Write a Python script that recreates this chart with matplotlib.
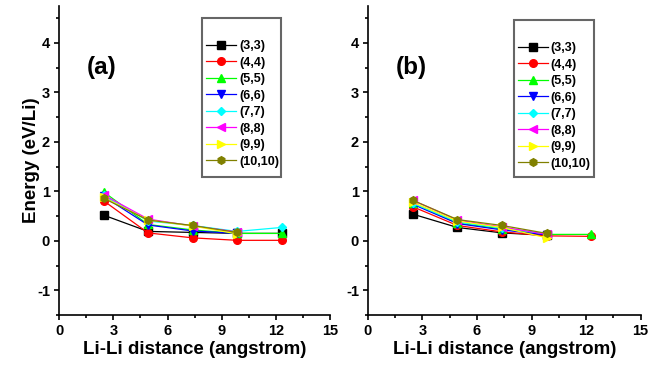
import numpy as np
import matplotlib
matplotlib.use("Agg")
from matplotlib import pyplot as plt
from matplotlib.ticker import MultipleLocator
from matplotlib.patches import Rectangle

plt.rcParams['font.family'] = ['Liberation Sans', 'DejaVu Sans']
plt.rcParams['font.weight'] = 'bold'
plt.rcParams['axes.unicode_minus'] = False

nan = np.nan
dist = [2.46, 4.92, 7.38, 9.84, 12.3]
labels = ["(3,3)", "(4,4)", "(5,5)", "(6,6)", "(7,7)", "(8,8)", "(9,9)", "(10,10)"]

# panel (a)
a_33 = [0.52, 0.19, 0.17, 0.15, 0.15]
a_44 = [0.81, 0.16, 0.06, 0.01, 0.01]
a_55 = [0.99, 0.33, 0.22, 0.15, 0.15]
a_66 = [0.90, 0.32, 0.20, 0.15, nan]
a_77 = [0.92, 0.40, 0.31, 0.19, 0.27]
a_88 = [0.93, 0.44, 0.30, 0.18, nan]
a_99 = [0.88, 0.42, 0.30, 0.14, nan]
a_1010 = [0.86, 0.42, 0.31, 0.17, nan]

# panel (b)
b_33 = [0.54, 0.27, 0.16, 0.11, nan]
b_44 = [0.69, 0.31, 0.18, 0.10, 0.09]
b_55 = [0.76, 0.36, 0.24, 0.13, 0.13]
b_66 = [0.74, 0.35, 0.22, 0.12, nan]
b_77 = [0.76, 0.38, 0.26, 0.14, nan]
b_88 = [0.82, 0.42, 0.28, 0.13, nan]
b_99 = [0.78, 0.40, 0.27, 0.06, nan]
b_1010 = [0.82, 0.43, 0.31, 0.15, nan]

colors = ['black', 'red', '#00ff00', 'blue', 'cyan', 'magenta', 'yellow', '#808000']
markers = ['s', 'o', '^', 'v', 'D', '<', '>', 'h']

fig = plt.figure(figsize=(6.49, 3.68), dpi=100)
ax1 = fig.add_axes([0.091, 0.144, 0.418, 0.84])
ax2 = fig.add_axes([0.567, 0.144, 0.42, 0.84])

# legend box (axes fraction): x0, y0, x1, y1
panels = [(ax1, [a_33, a_44, a_55, a_66, a_77, a_88, a_99, a_1010], "(a)", (0.528, 0.447, 0.819, 0.961)),
          (ax2, [b_33, b_44, b_55, b_66, b_77, b_88, b_99, b_1010], "(b)", (0.535, 0.447, 0.828, 0.955))]

for ax, series, tag, box in panels:
    for ys, c, m, lab in zip(series, colors, markers, labels):
        ms = 4.5 if m == 'D' else 5.5
        ax.plot(dist, ys, color=c, marker=m, markersize=ms, linewidth=0.9, label=lab)
    ax.set_xlim(0, 15)
    ax.set_ylim(-1.5, 4.75)
    ax.xaxis.set_major_locator(MultipleLocator(3))
    ax.xaxis.set_minor_locator(MultipleLocator(1.5))
    ax.yaxis.set_major_locator(MultipleLocator(1))
    ax.yaxis.set_minor_locator(MultipleLocator(0.5))
    ax.spines['top'].set_visible(False)
    ax.spines['right'].set_visible(False)
    for s in ['left', 'bottom']:
        ax.spines[s].set_linewidth(1.2)
    ax.tick_params(which='major', length=3.5, width=1.2, labelsize=10.5, pad=3)
    ax.tick_params(which='minor', length=2.2, width=1.2)
    for t in ax.get_xticklabels() + ax.get_yticklabels():
        t.set_fontweight('bold')
    ax.set_xlabel("Li-Li distance (angstrom)", fontsize=13.5, fontweight='bold', labelpad=2)
    ax.text(1.55, 3.5, tag, fontsize=17.5, fontweight='bold', va='center')

    x0, y0, x1, y1 = box
    ax.add_patch(Rectangle((x0, y0), x1 - x0, y1 - y0, transform=ax.transAxes,
                           fill=False, edgecolor='#666666', linewidth=1.5, zorder=5))
    leg = ax.legend(loc='upper left', bbox_to_anchor=(x0, y1), fontsize=9,
                    title=' ', title_fontsize=10, frameon=False,
                    handlelength=2.4, handletextpad=0.25,
                    labelspacing=0.36, borderpad=0.3, borderaxespad=0)
    for t in leg.get_texts():
        t.set_fontweight('bold')

ax1.set_ylabel("Energy (eV/Li)", fontsize=13.5, fontweight='bold')
ax1.yaxis.set_label_coords(-0.07, 0.5)

fig.savefig("out.png", dpi=100)
